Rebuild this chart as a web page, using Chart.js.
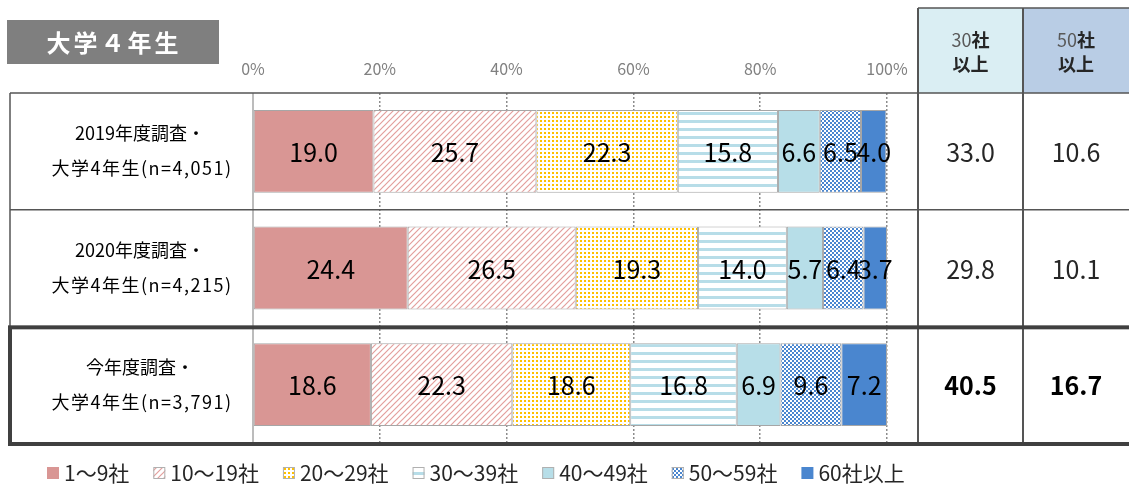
<!DOCTYPE html>
<html lang="ja">
<head>
<meta charset="utf-8">
<title>大学4年生 エントリー社数</title>
<script src="https://cdn.jsdelivr.net/npm/chart.js@4.4.1/dist/chart.umd.min.js"></script>
<style>
  html, body { margin: 0; padding: 0; background: #fff; }
  #wrap { width: 1129px; height: 486px; }
</style>
</head>
<body>
<div id="wrap"><canvas id="chart" width="1129" height="486"></canvas></div>
<script>
const FONT = '"Noto Sans CJK JP", "Noto Sans", sans-serif';

// survey rows, each label on two lines
const rowLabels = [
  ["2019年度調査・", "大学4年生(n=4,051)"],
  ["2020年度調査・", "大学4年生(n=4,215)"],
  ["今年度調査・", "大学4年生(n=3,791)"],
];
const seriesNames = ["1～9社", "10～19社", "20～29社", "30～39社", "40～49社", "50～59社", "60社以上"];
const v1to9   = [19.0, 24.4, 18.6];
const v10to19 = [25.7, 26.5, 22.3];
const v20to29 = [22.3, 19.3, 18.6];
const v30to39 = [15.8, 14.0, 16.8];
const v40to49 = [6.6, 5.7, 6.9];
const v50to59 = [6.5, 6.4, 9.6];
const v60plus = [4.0, 3.7, 7.2];
// summary columns on the right
const sumHeads = [["30", "社", "以上"], ["50", "社", "以上"]];
const over30 = [33.0, 29.8, 40.5];
const over50 = [10.6, 10.1, 16.7];
const xTicks = [0, 20, 40, 60, 80, 100];

const canvas = document.getElementById('chart');
const ctx0 = canvas.getContext('2d');

function makePattern(size, draw) {
  const c = document.createElement('canvas');
  c.width = size; c.height = size;
  const g = c.getContext('2d');
  g.fillStyle = '#fff';
  g.fillRect(0, 0, size, size);
  draw(g, size);
  return ctx0.createPattern(c, 'repeat');
}

const hatchRed = makePattern(6, (g, s) => {
  g.strokeStyle = '#e39f9d';
  g.lineWidth = 1.2;
  g.beginPath();
  g.moveTo(-1, s + 1); g.lineTo(s + 1, -1);
  g.moveTo(-2, 2); g.lineTo(2, -2);
  g.moveTo(s - 2, s + 2); g.lineTo(s + 2, s - 2);
  g.stroke();
});
const dotsYellow = makePattern(4, (g) => {
  g.fillStyle = '#ffc000';
  g.fillRect(0, 0, 2, 2);
});
const stripesBlue = makePattern(8, (g) => {
  g.fillStyle = '#b7dde8';
  g.fillRect(0, 0, 8, 3);
});
const checkBlue = makePattern(4, (g) => {
  g.fillStyle = '#4a86cf';
  g.fillRect(0, 0, 2, 2);
  g.fillRect(2, 2, 2, 2);
});

const fills = ['#d99694', hatchRed, dotsYellow, stripesBlue, '#b7dee8', checkBlue, '#4a86cf'];
const values = [v1to9, v10to19, v20to29, v30to39, v40to49, v50to59, v60plus];

const datasets = values.map((v, i) => ({
  label: seriesNames[i],
  data: v,
  backgroundColor: fills[i],
  borderColor: '#a6a6a6',
  borderWidth: 1,
  borderSkipped: false,
  barPercentage: 0.71,
  categoryPercentage: 1,
}));

// table frame, texts and legend around the bars
const tablePlugin = {
  id: 'table',
  beforeDraw(chart) {
    const ctx = chart.ctx;
    ctx.save();
    ctx.fillStyle = '#fff';
    ctx.fillRect(0, 0, chart.width, chart.height);

    // title box
    ctx.fillStyle = '#7f7f7f';
    ctx.fillRect(7, 20, 212, 44);
    ctx.fillStyle = '#fff';
    ctx.font = 'bold 24px ' + FONT;
    ctx.letterSpacing = '3px';
    ctx.textAlign = 'center';
    ctx.textBaseline = 'middle';
    ctx.fillText('大学４年生', 114, 43);
    ctx.letterSpacing = '0px';

    // header cells
    ctx.fillStyle = '#daeef3';
    ctx.fillRect(918, 8, 105, 85);
    ctx.fillStyle = '#b9cde5';
    ctx.fillRect(1023, 8, 106, 85);
    ctx.restore();
  },
  afterDatasetsDraw(chart) {
    const ctx = chart.ctx;
    ctx.save();
    ctx.font = '25px ' + FONT;
    ctx.fillStyle = '#000';
    ctx.textAlign = 'center';
    ctx.textBaseline = 'middle';
    chart.data.datasets.forEach((ds, di) => {
      chart.getDatasetMeta(di).data.forEach((bar, i) => {
        const cx = (bar.x + bar.base) / 2;
        ctx.fillText(ds.data[i].toFixed(1), cx, bar.y + 1);
      });
    });
    ctx.restore();
  },
  afterDraw(chart) {
    const ctx = chart.ctx;
    const area = chart.chartArea;
    const ys = chart.scales.y;
    const rowH = (area.bottom - area.top) / rowLabels.length;
    const colA = 918, colB = 1023, right = chart.width;
    ctx.save();

    // table lines
    ctx.strokeStyle = '#a6a6a6';
    ctx.lineWidth = 1.5;
    ctx.beginPath();
    ctx.moveTo(area.left, area.top);
    ctx.lineTo(area.left, area.bottom);
    ctx.stroke();

    ctx.strokeStyle = '#555';
    ctx.lineWidth = 1.5;
    ctx.beginPath();
    for (let r = 0; r < 2; r++) {
      const y = area.top + r * rowH;
      ctx.moveTo(10, y); ctx.lineTo(right, y);
    }
    ctx.moveTo(10, area.top); ctx.lineTo(10, area.top + 2 * rowH);
    ctx.moveTo(colA, 8); ctx.lineTo(right, 8);
    ctx.stroke();
    ctx.lineWidth = 2;
    ctx.beginPath();
    ctx.moveTo(colA, 8); ctx.lineTo(colA, area.bottom);
    ctx.moveTo(colB, 8); ctx.lineTo(colB, area.bottom);
    ctx.stroke();

    // highlighted current row
    ctx.strokeStyle = '#404040';
    ctx.lineWidth = 4;
    ctx.strokeRect(10, area.top + 2 * rowH + 1, right + 10, rowH);

    // header text
    ctx.textAlign = 'left';
    ctx.textBaseline = 'middle';
    sumHeads.forEach((h, i) => {
      const cx = i === 0 ? (colA + colB) / 2 : (colB + right) / 2;
      ctx.font = '18px ' + FONT;
      const w1 = ctx.measureText(h[0]).width;
      ctx.font = 'bold 18px ' + FONT;
      const w2 = ctx.measureText(h[1]).width;
      const x0 = cx - (w1 + w2) / 2;
      ctx.font = '18px ' + FONT;
      ctx.fillStyle = '#595959';
      ctx.fillText(h[0], x0, 40);
      ctx.font = 'bold 18px ' + FONT;
      ctx.fillStyle = '#262626';
      ctx.fillText(h[1], x0 + w1, 40);
      ctx.textAlign = 'center';
      ctx.fillText(h[2], cx, 64);
      ctx.textAlign = 'left';
    });

    // row labels and summary values
    ctx.textAlign = 'center';
    rowLabels.forEach((lines, i) => {
      const cy = ys.getPixelForValue(i);
      ctx.fillStyle = '#000';
      ctx.font = '18px ' + FONT;
      ctx.fillText(lines[0], 140, cy - 18);
      ctx.letterSpacing = '1.5px';
      ctx.fillText(lines[1], 142, cy + 17);
      ctx.letterSpacing = '0px';
      const last = i === rowLabels.length - 1;
      ctx.font = (last ? 'bold ' : '') + '25px ' + FONT;
      ctx.fillStyle = last ? '#000' : '#262626';
      ctx.fillText(over30[i].toFixed(1), (colA + colB) / 2, cy + 1);
      ctx.fillText(over50[i].toFixed(1), (colB + right) / 2, cy + 1);
    });

    // legend
    ctx.font = '21px ' + FONT;
    ctx.textAlign = 'left';
    let x = 47;
    const ly = 473;
    chart.data.datasets.forEach((ds, i) => {
      ctx.fillStyle = ds.backgroundColor;
      ctx.fillRect(x, ly - 6, 12, 12);
      if (i > 0 && i < 6) {
        ctx.strokeStyle = '#b0b0b0';
        ctx.lineWidth = 1;
        ctx.strokeRect(x + 0.5, ly - 5.5, 11, 11);
      }
      ctx.fillStyle = '#262626';
      ctx.fillText(ds.label, x + 17, ly);
      x += 17 + ctx.measureText(ds.label).width + 24;
    });
    ctx.restore();
  }
};

new Chart(canvas, {
  type: 'bar',
  data: { labels: rowLabels, datasets },
  options: {
    indexAxis: 'y',
    responsive: false,
    animation: false,
    layout: { padding: { left: 253, right: 242, top: 53, bottom: 43 } },
    plugins: { legend: { display: false }, tooltip: { enabled: false } },
    scales: {
      x: {
        stacked: true,
        min: 0,
        max: 100,
        position: 'top',
        afterBuildTicks: s => { s.ticks = xTicks.map(v => ({ value: v })); },
        afterFit: s => { s.height = 40; },
        ticks: {
          callback: v => v + '%',
          color: '#808080',
          font: { family: FONT, size: 16 },
          padding: 14,
          maxRotation: 0,
        },
        grid: {
          drawTicks: false,
          color: c => (c.tick && c.tick.value === 0) ? 'rgba(0,0,0,0)' : '#8c8c8c',
          lineWidth: 1.5,
        },
        border: { display: false, dash: [2, 2] },
      },
      y: { stacked: true, display: false },
    },
  },
  plugins: [tablePlugin],
});
</script>
</body>
</html>
